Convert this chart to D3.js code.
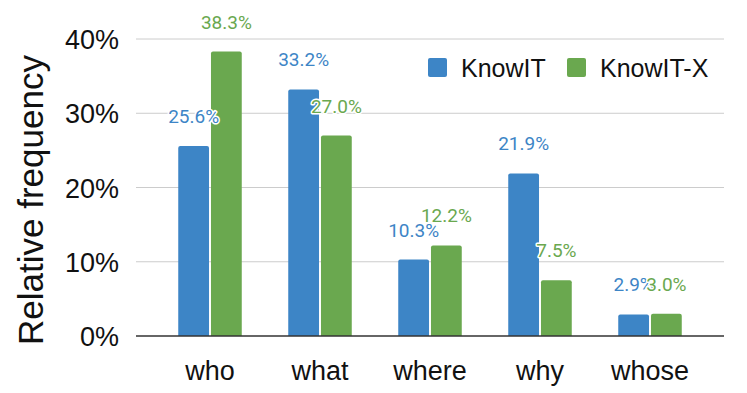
<!DOCTYPE html>
<html><head><meta charset="utf-8">
<script src="https://cdn.jsdelivr.net/npm/d3@7"></script>
<style>body{margin:0;background:#fff}</style>
</head><body>
<svg id="c" width="747" height="393"></svg>
<script>
const categories = ["who","what","where","why","whose"];
const seriesNames = ["KnowIT","KnowIT-X"];
const knowIT = [25.6,33.2,10.3,21.9,2.9];
const knowITX = [38.3,27.0,12.2,7.5,3.0];
const yTicks = [0,10,20,30,40];
const colors = ["#3d85c6","#6aa84f"];

const svg = d3.select("#c");
const plotL = 136, plotR = 724, bandL = 155, bandR = 705;
const y = d3.scaleLinear().domain([0,40]).range([336,39]);
const x = d3.scaleBand().domain(categories).range([bandL,bandR]).paddingInner(0).paddingOuter(0);
const inner = d3.scaleBand().domain(seriesNames).range([0,x.bandwidth()]).paddingInner(0.06).paddingOuter(0.71);

// gridlines
svg.append("g").selectAll("line").data(yTicks.filter(d=>d>0)).join("line")
  .attr("x1",plotL).attr("x2",plotR).attr("y1",d=>y(d)).attr("y2",d=>y(d))
  .attr("stroke","#cccccc").attr("stroke-width",1);

// y tick labels
const yAxis = d3.axisLeft(y).tickValues(yTicks).tickFormat(d=>d+"%").tickSize(0).tickPadding(0);
const ga = svg.append("g").attr("transform","translate(119,0)").call(yAxis);
ga.select(".domain").remove();
ga.selectAll("text").attr("font-family","Liberation Sans, Arial, sans-serif").attr("font-size",27).attr("fill","#111").attr("dy","0.36em");

// bars
const data = [];
categories.forEach((c,i)=>{ data.push({c,s:seriesNames[0],v:knowIT[i],col:colors[0]}); data.push({c,s:seriesNames[1],v:knowITX[i],col:colors[1]}); });
svg.append("g").selectAll("path").data(data).join("path")
  .attr("fill",d=>d.col)
  .attr("d",d=>{
    const x0 = x(d.c)+inner(d.s), w = inner.bandwidth(), y0 = y(d.v), y1 = y(0), r = 2;
    return `M${x0},${y1}V${y0+r}Q${x0},${y0} ${x0+r},${y0}H${x0+w-r}Q${x0+w},${y0} ${x0+w},${y0+r}V${y1}Z`;
  });

// baseline
svg.append("line").attr("x1",plotL).attr("x2",plotR).attr("y1",y(0)).attr("y2",y(0)).attr("stroke","#333").attr("stroke-width",1.5);

// value labels
svg.append("g").selectAll("text").data(data).join("text")
  .attr("x",d=>x(d.c)+inner(d.s)+inner.bandwidth()/2)
  .attr("y",d=>y(d.v)-23)
  .attr("text-anchor","middle")
  .attr("font-family","Roboto, sans-serif").attr("font-size",19)
  .attr("fill",d=>d.col)
  .attr("stroke","#fff").attr("stroke-width",3).attr("paint-order","stroke").attr("stroke-linejoin","round")
  .text(d=>d.v.toFixed(1)+"%");

// x labels
const xAxis = d3.axisBottom(x).tickSize(0).tickPadding(0);
const gx = svg.append("g").attr("transform","translate(0,380)").call(xAxis);
gx.select(".domain").remove();
gx.selectAll("text").attr("font-family","Liberation Sans, Arial, sans-serif").attr("font-size",27).attr("fill","#111").attr("dy",0);

// y title
svg.append("text").attr("transform","translate(43,200) rotate(-90)").attr("text-anchor","middle")
  .attr("font-family","Liberation Sans, Arial, sans-serif").attr("font-size",35).attr("fill","#111")
  .text("Relative frequency");

// legend
const legX = [428,567];
const lg = svg.append("g").selectAll("g").data(seriesNames).join("g").attr("transform",(d,i)=>`translate(${legX[i]},58)`);
lg.append("rect").attr("width",19).attr("height",19).attr("rx",2).attr("fill",(d,i)=>colors[i]);
lg.append("text").attr("x",33).attr("y",19).attr("font-family","Liberation Sans, Arial, sans-serif").attr("font-size",25).attr("fill","#111").text(d=>d);
</script>
</body></html>
